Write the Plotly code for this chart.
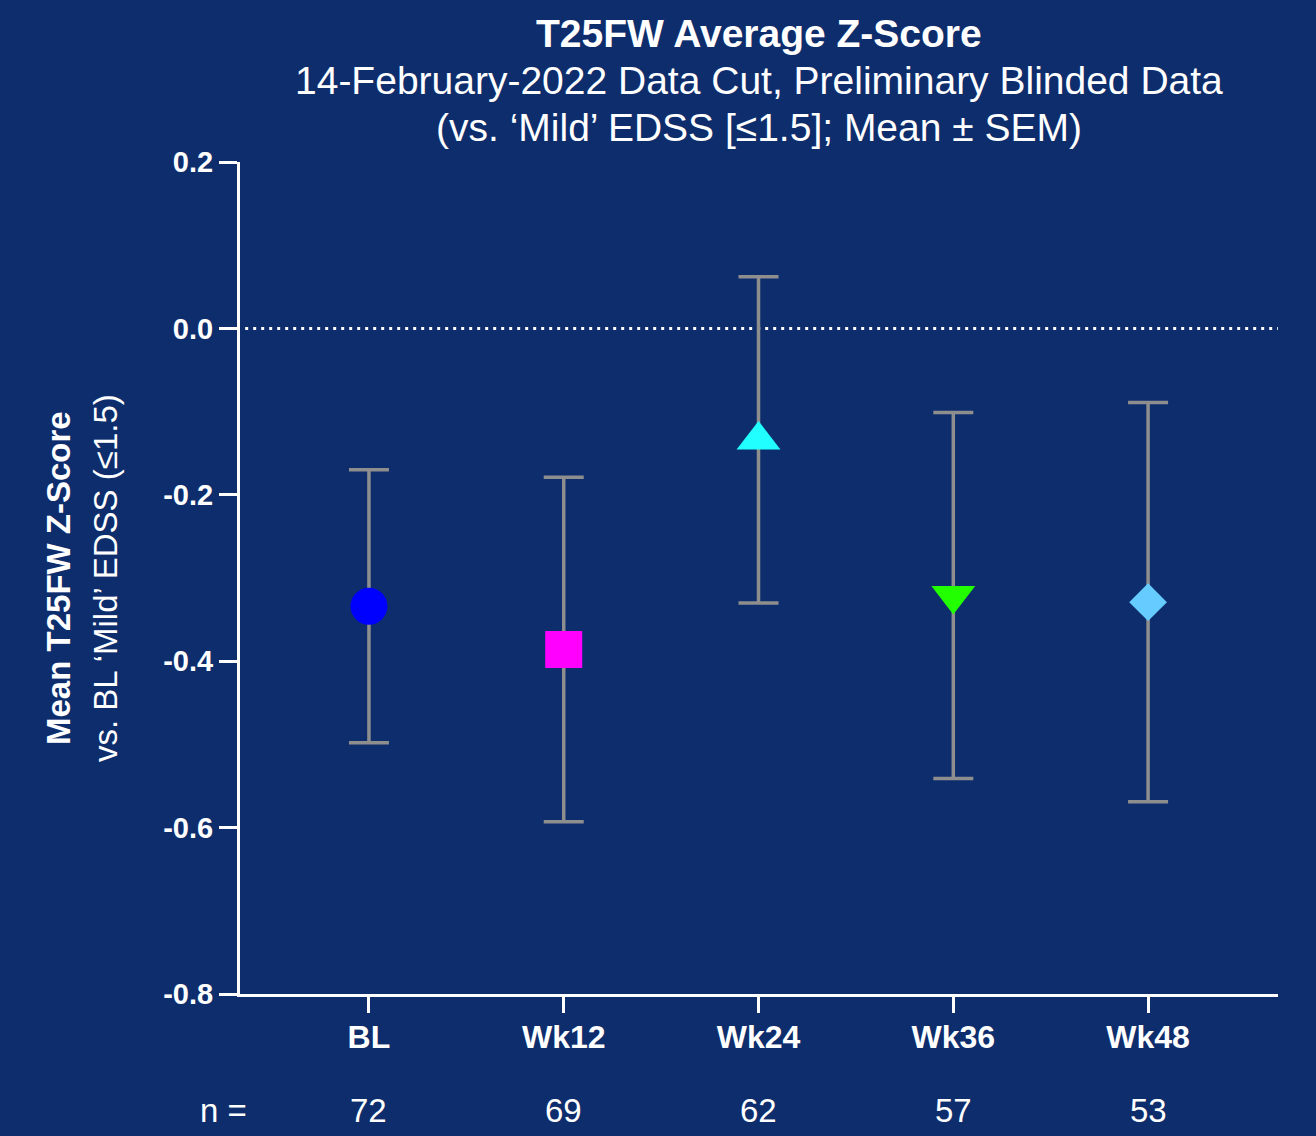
import plotly.graph_objects as go

categories = ["BL", "Wk12", "Wk24", "Wk36", "Wk48"]
means = [-0.334, -0.386, -0.134, -0.321, -0.329]
sems = [0.164, 0.207, 0.196, 0.220, 0.240]
n_values = [72, 69, 62, 57, 53]
symbols = ["circle", "square", "triangle-up", "triangle-down", "diamond"]
colors = ["#0000FF", "#FF00FF", "#22FFFF", "#22FF00", "#66CCFF"]
sizes = [37, 37, 38, 38, 29]
y_ticks = [-0.8, -0.6, -0.4, -0.2, 0.0, 0.2]
y_tick_labels = ["-0.8", "-0.6", "-0.4", "-0.2", "0.0", "0.2"]

BG = "#0E2D6D"
FONT = "Liberation Sans, Arial, sans-serif"

fig = go.Figure()
for cat, m, s, sym, col, sz in zip(categories, means, sems, symbols, colors, sizes):
    fig.add_trace(go.Scatter(
        x=[cat], y=[m], mode="markers",
        marker=dict(symbol=sym, color=col, size=sz, line=dict(width=0)),
        error_y=dict(type="data", array=[s], visible=True, color="#8E8E8E",
                     thickness=3.5, width=20),
        showlegend=False, hoverinfo="skip",
    ))

fig.add_shape(type="line", xref="paper", yref="y", x0=0.005, x1=1, y0=0, y1=0,
              line=dict(color="white", width=3, dash="3px,5px"), layer="below")

annotations = [
    dict(text="<b>T25FW Average Z-Score</b>", x=0.5, y=1.155, size=39),
    dict(text="14-February-2022 Data Cut, Preliminary Blinded Data", x=0.5, y=1.098, size=39),
    dict(text="(vs. \u2018Mild\u2019 EDSS [\u22641.5]; Mean \u00b1 SEM)", x=0.5, y=1.041, size=39),
]
anns = []
for a in annotations:
    anns.append(dict(text=a["text"], x=a["x"], y=a["y"], xref="paper", yref="paper",
                     xanchor="center", yanchor="middle", showarrow=False,
                     font=dict(family=FONT, size=a["size"], color="white")))

anns.append(dict(text="<b>Mean T25FW Z-Score</b>", x=0, y=0.5, xref="paper", yref="paper",
                 xshift=-182, textangle=-90, showarrow=False, xanchor="center", yanchor="middle",
                 font=dict(family=FONT, size=33, color="white")))
anns.append(dict(text="vs. BL \u2018Mild\u2019 EDSS (\u22641.5)", x=0, y=0.5, xref="paper", yref="paper",
                 xshift=-135, textangle=-90, showarrow=False, xanchor="center", yanchor="middle",
                 font=dict(family=FONT, size=33, color="white")))

anns.append(dict(text="n =", x=0, y=-0.1406, xref="paper", yref="paper", xshift=-17,
                 showarrow=False, xanchor="center", yanchor="middle",
                 font=dict(family=FONT, size=33, color="white")))
for cat, n in zip(categories, n_values):
    anns.append(dict(text=str(n), x=cat, y=-0.1406, xref="x", yref="paper",
                     showarrow=False, xanchor="center", yanchor="middle",
                     font=dict(family=FONT, size=33, color="white")))

fig.update_layout(
    width=1316, height=1136,
    margin=dict(l=240, r=38, t=162, b=142),
    paper_bgcolor=BG, plot_bgcolor=BG,
    font=dict(family=FONT, color="white"),
    annotations=anns,
    xaxis=dict(type="category", categoryorder="array", categoryarray=categories,
               range=[-0.662, 4.667], showgrid=False, zeroline=False,
               showline=True, linecolor="white", linewidth=3,
               ticks="outside", ticklen=16, tickwidth=3, tickcolor="white",
               tickfont=dict(family=FONT, size=32, color="white", weight="bold"),
               ticklabelstandoff=-3),
    yaxis=dict(range=[-0.8, 0.2], tickvals=y_ticks, ticktext=y_tick_labels,
               showgrid=False, zeroline=False,
               showline=True, linecolor="white", linewidth=3,
               ticks="outside", ticklen=18, tickwidth=3, tickcolor="white",
               tickfont=dict(family=FONT, size=29, color="white", weight="bold")),
)

fig.write_html(
    "out.html",
    config={"displayModeBar": False},
    post_script="document.body.style.margin='0';document.body.style.background='" + BG + "';",
)
